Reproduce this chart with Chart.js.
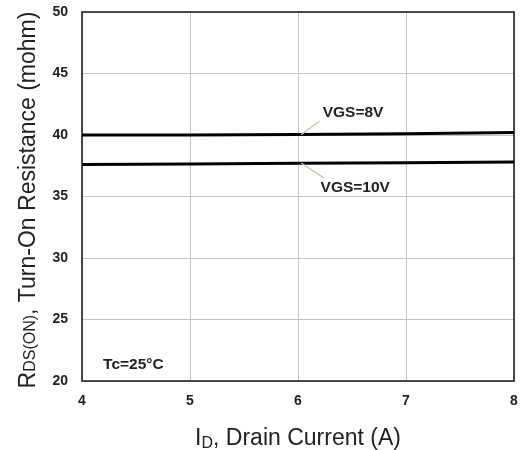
<!DOCTYPE html>
<html>
<head>
<meta charset="utf-8">
<script src="https://cdn.jsdelivr.net/npm/chart.js@4/dist/chart.umd.min.js"></script>
<style>
html,body{margin:0;padding:0;background:#fff;}
#wrap{width:521px;height:450px;}
</style>
</head>
<body>
<div id="wrap"><canvas id="c" width="521" height="450"></canvas></div>
<script>
const drainCurrent = [4, 5, 6, 7, 8];
const rdsVgs8 = [40.0, 40.0, 40.05, 40.1, 40.2];
const rdsVgs10 = [37.6, 37.65, 37.7, 37.75, 37.8];
const xTicks = [4, 5, 6, 7, 8];
const yTicks = [20, 25, 30, 35, 40, 45, 50];
const seriesLabels = ['VGS=8V', 'VGS=10V'];
const noteText = 'Tc=25\u00B0C';

const toPts = (xs, ys) => xs.map((x, i) => ({x: x, y: ys[i]}));

const annotations = [
  {text: seriesLabels[0], tx: 6.51, ty: 41.8, lx1: 6.03, ly1: 40.02, lx2: 6.2, ly2: 41.15},
  {text: seriesLabels[1], tx: 6.53, ty: 35.7, lx1: 6.03, ly1: 37.72, lx2: 6.24, ly2: 36.5}
];

const FONT = '"Liberation Sans", Arial, sans-serif';

const overlay = {
  id: 'overlay',
  beforeDatasetsDraw(chart) {
    const {ctx, chartArea: a} = chart;
    ctx.save();
    ctx.strokeStyle = '#222';
    ctx.lineWidth = 1.6;
    ctx.strokeRect(a.left, a.top, a.right - a.left, a.bottom - a.top);
    ctx.restore();
  },
  afterDraw(chart) {
    const {ctx, chartArea: a, scales: {x, y}} = chart;
    ctx.save();
    ctx.font = 'bold 15.5px ' + FONT;
    ctx.fillStyle = '#222';
    ctx.textAlign = 'center';
    ctx.textBaseline = 'middle';
    annotations.forEach(an => {
      ctx.strokeStyle = '#c9c0a8';
      ctx.lineWidth = 1.2;
      ctx.beginPath();
      ctx.moveTo(x.getPixelForValue(an.lx1), y.getPixelForValue(an.ly1));
      ctx.lineTo(x.getPixelForValue(an.lx2), y.getPixelForValue(an.ly2));
      ctx.stroke();
      ctx.fillText(an.text, x.getPixelForValue(an.tx), y.getPixelForValue(an.ty));
    });
    ctx.textAlign = 'left';
    ctx.fillText(noteText, x.getPixelForValue(4.195), y.getPixelForValue(21.3));

    // x title with subscript
    ctx.fillStyle = '#222';
    ctx.textBaseline = 'alphabetic';
    const big = '23px ' + FONT;
    const small = '16px ' + FONT;
    const xParts = [['I', big, 0], ['D', small, 3], [', Drain Current (A)', big, 0]];
    let tw = 0;
    xParts.forEach(p => { ctx.font = p[1]; tw += ctx.measureText(p[0]).width; });
    let cx = (a.left + a.right) / 2 - tw / 2;
    const by = 445;
    xParts.forEach(p => { ctx.font = p[1]; ctx.fillText(p[0], cx, by + p[2]); cx += ctx.measureText(p[0]).width; });

    // y title with subscript (rotated)
    const yBig = '23px ' + FONT;
    const ySmall = '16px ' + FONT;
    const yParts = [['R', yBig, 0], ['DS(ON)', ySmall, 0], [', Turn-On Resistance (mohm)', yBig, 0]];
    let th = 0;
    yParts.forEach(p => { ctx.font = p[1]; th += ctx.measureText(p[0]).width; });
    ctx.translate(35, 200);
    ctx.rotate(-Math.PI / 2);
    let cy = -th / 2;
    yParts.forEach(p => { ctx.font = p[1]; ctx.fillText(p[0], cy, p[2]); cy += ctx.measureText(p[0]).width; });
    ctx.restore();
  }
};

new Chart(document.getElementById('c'), {
  type: 'line',
  data: {
    datasets: [
      {label: seriesLabels[0], data: toPts(drainCurrent, rdsVgs8), borderColor: '#000', borderWidth: 3, pointRadius: 0, tension: 0, fill: false},
      {label: seriesLabels[1], data: toPts(drainCurrent, rdsVgs10), borderColor: '#000', borderWidth: 3, pointRadius: 0, tension: 0, fill: false}
    ]
  },
  options: {
    responsive: false,
    animation: false,
    devicePixelRatio: 1,
    layout: {padding: {left: 0, top: 12, right: 7, bottom: 0}},
    plugins: {legend: {display: false}, tooltip: {enabled: false}},
    scales: {
      x: {
        type: 'linear', min: 4, max: 8,
        afterBuildTicks: s => { s.ticks = xTicks.map(v => ({value: v})); },
        afterFit: s => { s.height = 69; s.paddingLeft = 0; s.paddingRight = 0; },
        grid: {color: '#c4c4c4', lineWidth: 1, drawTicks: false},
        border: {display: false},
        ticks: {padding: 12, color: '#222', font: {family: FONT, size: 14, weight: 'bold'}, maxRotation: 0}
      },
      y: {
        type: 'linear', min: 20, max: 50,
        afterBuildTicks: s => { s.ticks = yTicks.map(v => ({value: v})); },
        afterFit: s => { s.width = 82; s.paddingTop = 0; s.paddingBottom = 0; },
        grid: {color: '#c4c4c4', lineWidth: 1, drawTicks: false},
        border: {display: false},
        ticks: {padding: 14, color: '#222', font: {family: FONT, size: 14, weight: 'bold'}}
      }
    }
  },
  plugins: [overlay]
});
</script>
</body>
</html>
